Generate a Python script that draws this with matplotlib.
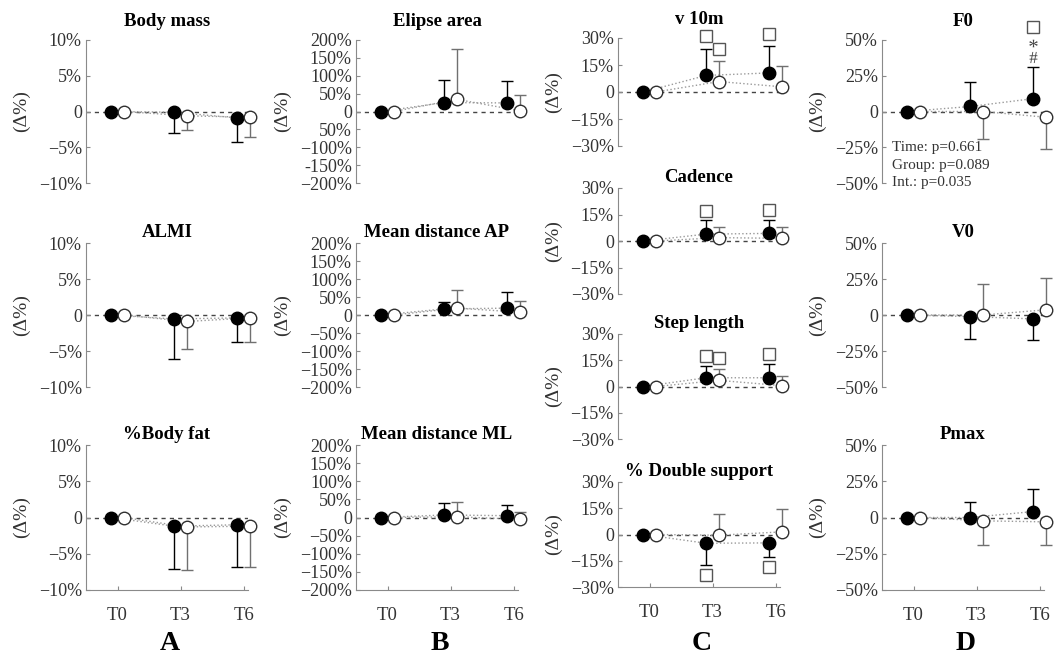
import numpy as np
import matplotlib
matplotlib.use("Agg")
import matplotlib.pyplot as plt

plt.rcParams['font.family'] = ['Liberation Serif', 'DejaVu Serif']
plt.rcParams['axes.unicode_minus'] = True
plt.rcParams['mathtext.fontset'] = 'custom'
plt.rcParams['mathtext.rm'] = 'Liberation Serif'
plt.rcParams['mathtext.it'] = 'Liberation Serif:italic'

nan = np.nan
times = ['T0', 'T3', 'T6']

# ---- column A (signed sd: + bar goes up, - bar goes down)
body_mass_exp = [0, -0.1, -0.9]
body_mass_exp_sd = [0, -2.9, -3.3]
body_mass_con = [0, -0.6, -0.8]
body_mass_con_sd = [0, -2.0, -2.7]

almi_exp = [0, -0.55, -0.4]
almi_exp_sd = [0, -5.5, -3.4]
almi_con = [0, -0.9, -0.4]
almi_con_sd = [0, -3.8, -3.4]

fat_exp = [0, -1.2, -1.0]
fat_exp_sd = [0, -5.9, -5.8]
fat_con = [0, -1.3, -1.2]
fat_con_sd = [0, -6.0, -5.6]

# ---- column B
ellipse_exp = [0, 25, 24]
ellipse_exp_sd = [0, 63, 60]
ellipse_con = [0, 34, 2]
ellipse_con_sd = [0, 140, 43]

ap_exp = [0, 17, 19]
ap_exp_sd = [0, 19, 46]
ap_con = [0, 19, 8]
ap_con_sd = [0, 50, 30]

ml_exp = [0, 7, 5]
ml_exp_sd = [0, 33, 30]
ml_con = [0, 2, -5]
ml_con_sd = [0, 40, 21]

# ---- column C
v10_exp = [0, 9.2, 10.6]
v10_exp_sd = [0, 14.8, 15.0]
v10_con = [0, 5.8, 2.9]
v10_con_sd = [0, 11.5, 11.5]
v10_sq_exp = [nan, 31, 32]
v10_sq_con = [nan, 23.7, nan]

cad_exp = [0, 3.9, 4.3]
cad_exp_sd = [0, 7.9, 7.5]
cad_con = [0, 1.9, 1.5]
cad_con_sd = [0, 5.8, 6.2]
cad_sq_exp = [nan, 17, 17.5]
cad_sq_con = [nan, nan, nan]

step_exp = [0, 5, 5]
step_exp_sd = [0, 7, 7.7]
step_con = [0, 3.5, 0.5]
step_con_sd = [0, 6.5, 5.5]
step_sq_exp = [nan, 17.3, 18.8]
step_sq_con = [nan, 16.3, nan]

ds_exp = [0, -5, -4.8]
ds_exp_sd = [0, -12.4, -8.3]
ds_con = [0, -0.4, 1.5]
ds_con_sd = [0, 12.2, 13.1]
ds_sq_exp = [nan, -23, -18.3]
ds_sq_con = [nan, nan, nan]

# ---- column D
f0_exp = [0, 3.5, 9]
f0_exp_sd = [0, 17.2, 22.4]
f0_con = [0, 0, -4]
f0_con_sd = [0, -19.3, -22]
f0_sq_exp = [nan, nan, 59]
f0_star_exp = [nan, nan, 48]
f0_hash_exp = [nan, nan, 38]
f0_stats = ['Time: p=0.661', 'Group: p=0.089', 'Int.: p=0.035']

v0_exp = [0, -1.1, -2.7]
v0_exp_sd = [0, -15.3, -14.8]
v0_con = [0, 0, 3.6]
v0_con_sd = [0, 21.6, 22.1]

pmax_exp = [0, 0, 4.1]
pmax_exp_sd = [0, 10.9, 15.7]
pmax_con = [0, -2.3, -3]
pmax_con_sd = [0, -16.6, -15.9]

col_letters = ['A', 'B', 'C', 'D']


def pct_labels(lim, step):
    vals = np.arange(lim, -lim - 1, -step)
    labs = []
    for v in vals:
        if v == 0:
            labs.append('0')
        elif v < 0:
            labs.append('\u2212%d%%' % -v)
        else:
            labs.append('%d%%' % v)
    return list(vals), labs


W, H = 1057, 657
fig = plt.figure(figsize=(W / 100, H / 100), dpi=100)

GREY = '#8a8a8a'
TXT = '#333333'


def make_ax(left, top, bottom, width=162):
    return fig.add_axes([left / W, 1 - bottom / H, width / W, (bottom - top) / H])


def panel(ax, title, exp, exp_sd, con, con_sd, lim, step, last_row=False,
          first_row=False, sq_exp=None, sq_con=None, labels=None):
    x = np.arange(1, 4)
    xe = x - 0.1
    xc = x + 0.1
    ax.set_xlim(0.5, 3.07)
    ax.set_ylim(-lim, lim)
    ax.axhline(0, color='#444444', ls=(0, (3, 3)), lw=1, zorder=1)
    ax.plot(xe, exp, ls=':', color='#9a9a9a', lw=1, zorder=2, clip_on=False)
    ax.plot(xc, con, ls=':', color='#9a9a9a', lw=1, zorder=2, clip_on=False)
    for xs, m, sd, col in [(xe, exp, exp_sd, 'black'), (xc, con, con_sd, '#707070')]:
        sd = np.array(sd, float)
        ax.errorbar(xs, m, yerr=[np.where(sd < 0, -sd, 0), np.where(sd > 0, sd, 0)],
                    fmt='none', ecolor=col, elinewidth=1, capsize=4, capthick=1,
                    zorder=3, clip_on=False)
    ax.plot(xe, exp, 'o', ms=9, mfc='black', mec='black', zorder=5, clip_on=False)
    ax.plot(xc, con, 'o', ms=9, mfc='white', mec='#303030', mew=1, zorder=5, clip_on=False)
    if sq_exp is not None:
        ax.plot(xe, sq_exp, 's', ms=8, mfc='white', mec='#555555', mew=1, ls='none',
                zorder=5, clip_on=False)
    if sq_con is not None:
        ax.plot(xc, sq_con, 's', ms=8, mfc='white', mec='#555555', mew=1, ls='none',
                zorder=5, clip_on=False)

    ticks, labs = pct_labels(lim, step)
    if labels is not None:
        labs = labels
    ax.set_yticks(ticks)
    ax.set_yticklabels(labs)
    ax.tick_params(axis='y', direction='in', length=3, color=GREY, labelsize=13,
                   labelcolor=TXT, pad=3)
    for s in ['top', 'right']:
        ax.spines[s].set_visible(False)
    ax.spines['left'].set_color(GREY)
    if last_row:
        ax.spines['bottom'].set_color(GREY)
        ax.set_xticks(x)
        ax.set_xticklabels(times)
        ax.tick_params(axis='x', direction='in', length=3, color=GREY, labelsize=13.5,
                       labelcolor=TXT, pad=12)
    else:
        ax.spines['bottom'].set_visible(False)
        ax.set_xticks([])
    ax.set_facecolor('none')
    ax.set_title(title, fontweight='bold', fontsize=13.5, pad=10 if first_row else 4)
    ax.set_ylabel('(\u0394%)', fontsize=14, color=TXT, labelpad=6)


lefts = [86, 356, 618, 882]
rows3 = [(40, 183), (243, 387), (445, 590)]
rows4 = [(38, 146), (188, 294), (334, 439), (482, 587)]

# column A
ax = make_ax(lefts[0], *rows3[0])
panel(ax, 'Body mass', body_mass_exp, body_mass_exp_sd, body_mass_con, body_mass_con_sd, 10, 5, first_row=True)
ax = make_ax(lefts[0], *rows3[1])
panel(ax, 'ALMI', almi_exp, almi_exp_sd, almi_con, almi_con_sd, 10, 5)
ax = make_ax(lefts[0], *rows3[2])
panel(ax, '%Body fat', fat_exp, fat_exp_sd, fat_con, fat_con_sd, 10, 5, last_row=True)

# column B
ellipse_labels = ['200%', '150%', '100%', '50%', '0', '50%', '\u2212100%', '-150%', '\u2212200%']
ax = make_ax(lefts[1], *rows3[0])
panel(ax, 'Elipse area', ellipse_exp, ellipse_exp_sd, ellipse_con, ellipse_con_sd, 200, 50,
      first_row=True, labels=ellipse_labels)
ax = make_ax(lefts[1], *rows3[1])
panel(ax, 'Mean distance AP', ap_exp, ap_exp_sd, ap_con, ap_con_sd, 200, 50)
ax = make_ax(lefts[1], *rows3[2])
panel(ax, 'Mean distance ML', ml_exp, ml_exp_sd, ml_con, ml_con_sd, 200, 50, last_row=True)

# column C
ax = make_ax(lefts[2], *rows4[0])
panel(ax, 'v 10m', v10_exp, v10_exp_sd, v10_con, v10_con_sd, 30, 15, first_row=True,
      sq_exp=v10_sq_exp, sq_con=v10_sq_con)
ax = make_ax(lefts[2], *rows4[1])
panel(ax, 'Cadence', cad_exp, cad_exp_sd, cad_con, cad_con_sd, 30, 15,
      sq_exp=cad_sq_exp, sq_con=cad_sq_con)
ax = make_ax(lefts[2], *rows4[2])
panel(ax, 'Step length', step_exp, step_exp_sd, step_con, step_con_sd, 30, 15,
      sq_exp=step_sq_exp, sq_con=step_sq_con)
ax = make_ax(lefts[2], *rows4[3])
panel(ax, '% Double support', ds_exp, ds_exp_sd, ds_con, ds_con_sd, 30, 15, last_row=True,
      sq_exp=ds_sq_exp, sq_con=ds_sq_con)

# column D
ax = make_ax(lefts[3], *rows3[0])
panel(ax, 'F0', f0_exp, f0_exp_sd, f0_con, f0_con_sd, 50, 25, first_row=True, sq_exp=f0_sq_exp)
xs_f0 = np.arange(1, 4) - 0.1
ax.plot(xs_f0, f0_star_exp, ls='none', marker='$*$', ms=6, mew=0, color='#444444',
        clip_on=False, zorder=5)
ax.plot(xs_f0, f0_hash_exp, ls='none', marker=r'$\#$', ms=8, mew=0, color='#444444',
        clip_on=False, zorder=5)
for k, s in enumerate(f0_stats):
    ax.text(0.66, -25.5 - k * 12.2, s, ha='left', va='center', fontsize=11, color=TXT)
ax = make_ax(lefts[3], *rows3[1])
panel(ax, 'V0', v0_exp, v0_exp_sd, v0_con, v0_con_sd, 50, 25)
ax = make_ax(lefts[3], *rows3[2])
panel(ax, 'Pmax', pmax_exp, pmax_exp_sd, pmax_con, pmax_con_sd, 50, 25, last_row=True)

for left, letter in zip(lefts, col_letters):
    fig.text((left + 84) / W, 1 - 644 / H, letter, ha='center', va='center',
             fontsize=20, fontweight='bold')

fig.savefig('out.png', dpi=100)
